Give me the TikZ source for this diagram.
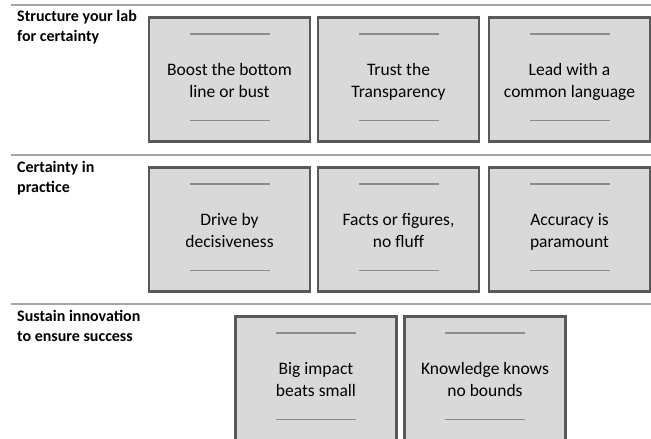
\documentclass[tikz,border=0pt]{standalone}
\usepackage{fontspec}
\setmainfont{Carlito}
\usepackage{xcolor}
\usetikzlibrary{positioning,calc}
\definecolor{boxfill}{HTML}{D9D9D9}
\definecolor{boxline}{HTML}{595959}
\definecolor{ruleline}{HTML}{A6A6A6}
\definecolor{tickline}{HTML}{8C8C8C}
\newcommand{\cardstrut}{\rule[-4.5pt]{0pt}{22.5pt}}
\tikzset{
  card/.style={draw=boxline, line width=2.2pt, fill=boxfill,
    minimum width=161pt, minimum height=124pt, inner sep=0pt,
    align=center, font=\fontsize{17.5}{22.5}\selectfont},
  rowlabel/.style={anchor=north west, inner sep=0pt, align=left,
    font=\fontsize{16}{19.5}\selectfont\bfseries},
  rowrule/.style={ruleline, line width=2pt},
  cardtick/.style={tickline, line width=1.5pt}
}

\begin{document}
\begin{tikzpicture}[x=1pt,y=-1pt]
	\useasboundingbox (0,0) rectangle (651,439);
	% rules between the rows
	\foreach \y in {5,154.5,304} {
		\draw[rowrule] (11,\y) -- (651,\y);
	}
	% row labels
	\node[rowlabel] (labA) at (17,10.5) {Structure your lab\\for certainty};
	\node[rowlabel] (labB) at (17,161.5) {Certainty in\\practice};
	\node[rowlabel] (labC) at (17,310.5) {Sustain innovation\\to ensure success};
	% cards, with a short rule above and below the text
	\foreach \n/\x/\y/\txt in {
		a1/229.5/79.5/{Boost the bottom\\\cardstrut line or bust},
		a2/398.5/79.5/{Trust the\\\cardstrut Transparency},
		a3/569.5/79.5/{Lead with a\\\cardstrut common language},
		b1/229.5/229.5/{Drive by\\\cardstrut decisiveness},
		b2/398.5/229.5/{Facts or figures,\\\cardstrut no fluff},
		b3/569.5/229.5/{Accuracy is\\\cardstrut paramount},
		c1/316/378.5/{Big impact\\\cardstrut beats small},
		c2/485/378.5/{Knowledge knows\\\cardstrut no bounds}} {
		\node[card] (\n) at (\x,\y) {\cardstrut\txt};
		\draw[cardtick] ($(\n.north)+(-40,17.5)$) -- ($(\n.north)+(40,17.5)$);
		\draw[cardtick] ($(\n.south)+(-40,-22)$) -- ($(\n.south)+(40,-22)$);
	}
\end{tikzpicture}
\end{document}
